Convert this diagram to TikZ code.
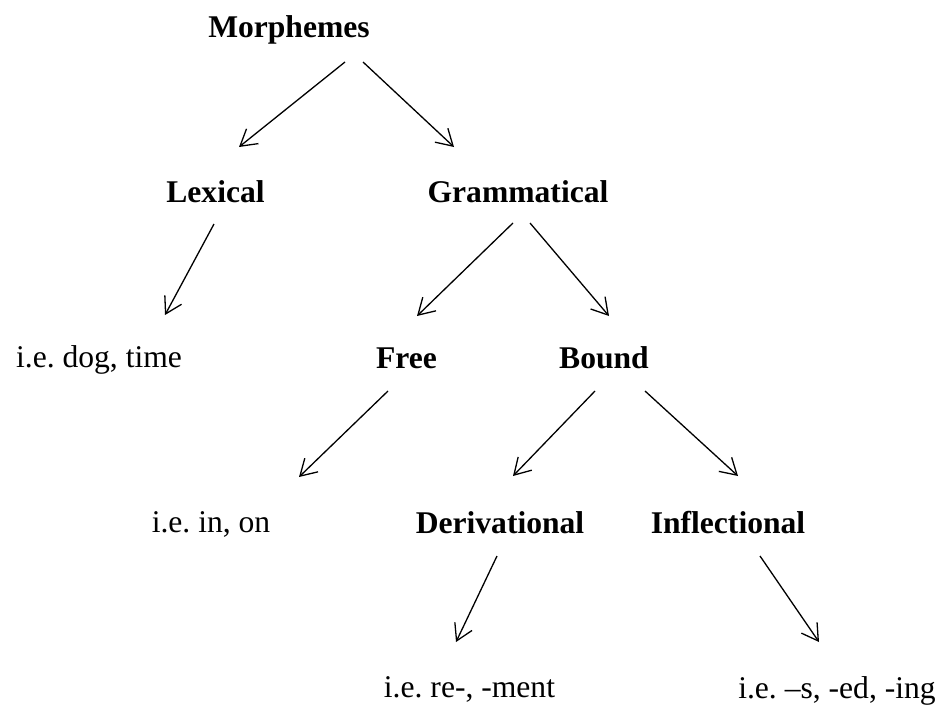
\documentclass[tikz,border=0pt]{standalone}
\usepackage{fontspec}
\setmainfont{Liberation Serif}
\usetikzlibrary{arrows.meta,calc}
\frenchspacing
\begin{document}
\begin{tikzpicture}[x=1pt,y=1pt,
  every node/.style={inner sep=0pt,anchor=base,font=\fontsize{31.6}{38}\selectfont},
  head/.style={font=\fontsize{31.6}{38}\selectfont\bfseries},
  arr/.style={line width=1.3pt,-{Straight Barb[length=16pt,width=19pt,line width=1.3pt]}}]
\useasboundingbox (0,0) rectangle (942,-704);
% tree labels (anchored at their baselines)
\node[head] (morph) at (289,-37) {Morphemes};
\node[head] (lex) at (215.5,-202) {Lexical};
\node[head] (gram) at (518,-202) {Grammatical};
\node (ex1) at (99,-367) {i.e. dog, time};
\node[head] (free) at (406.5,-368) {Free};
\node[head] (bound) at (604,-368) {Bound};
\node (ex2) at (211,-532) {i.e. in, on};
\node[head] (deriv) at (500,-533) {Derivational};
\node[head] (infl) at (728,-533) {Inflectional};
\node (ex3) at (469.5,-697) {i.e. re-, -ment};
\node (ex4) at (837,-698) {i.e. \textendash s, -ed, -ing};
% branches
\draw[arr] ($(morph.base)+(56,-25)$) -- ($(lex.base)+(23.5,55)$);
\draw[arr] ($(morph.base)+(74,-25)$) -- ($(gram.base)+(-64,55)$);
\draw[arr] ($(lex.base)+(-1.5,-22)$) -- ($(ex1.base)+(66,52)$);
\draw[arr] ($(gram.base)+(-5,-21)$) -- ($(free.base)+(10.5,52)$);
\draw[arr] ($(gram.base)+(12,-21)$) -- ($(bound.base)+(5,52)$);
\draw[arr] ($(free.base)+(-18.5,-23)$) -- ($(ex2.base)+(88,55)$);
\draw[arr] ($(bound.base)+(-9,-23)$) -- ($(deriv.base)+(13,57)$);
\draw[arr] ($(bound.base)+(41,-23)$) -- ($(infl.base)+(10,57)$);
\draw[arr] ($(deriv.base)+(-3,-23)$) -- ($(ex3.base)+(-13.5,55)$);
\draw[arr] ($(infl.base)+(32,-23)$) -- ($(ex4.base)+(-18,56)$);
\end{tikzpicture}
\end{document}
